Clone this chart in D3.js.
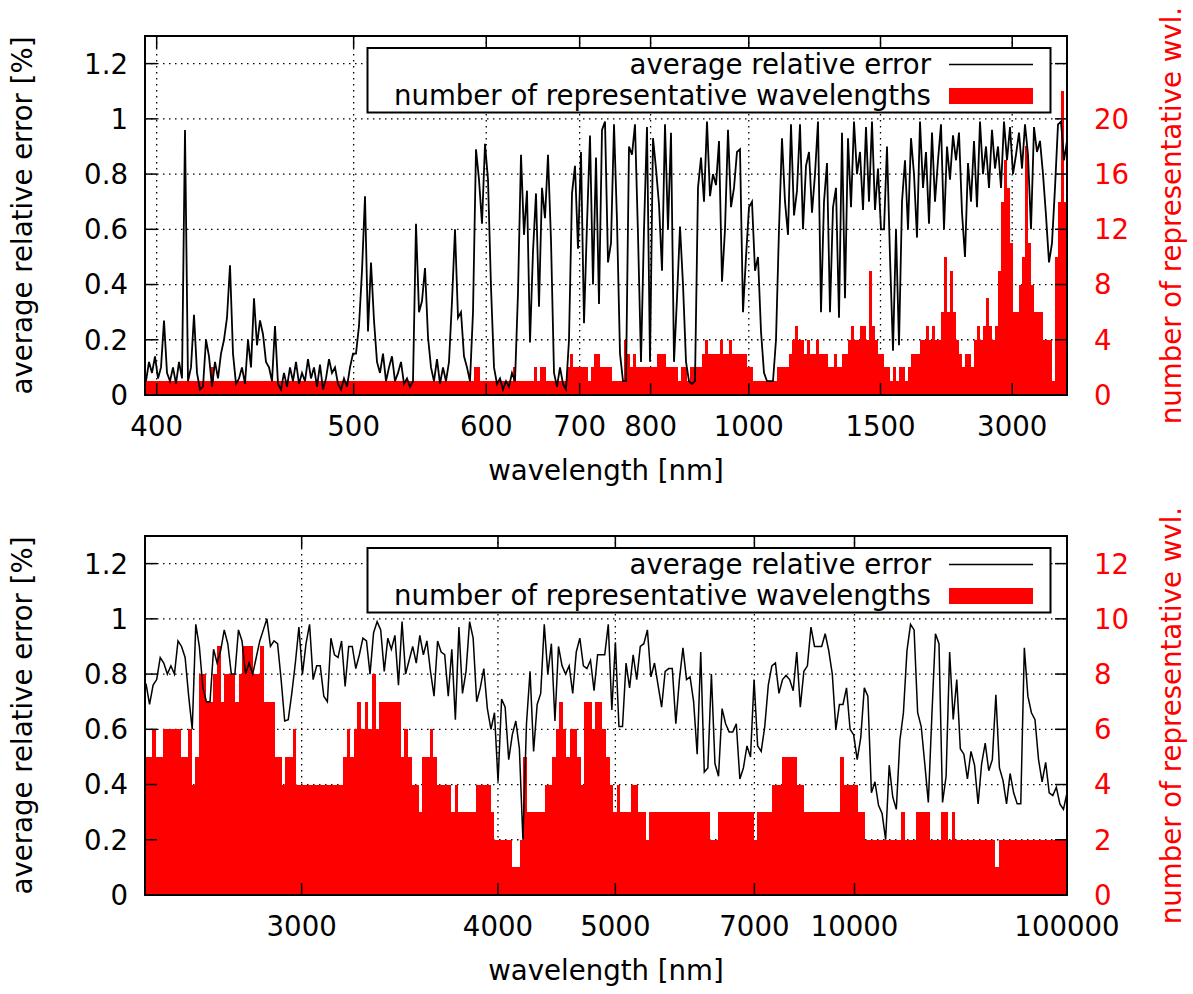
<!DOCTYPE html>
<html>
<head>
<meta charset="utf-8">
<script src="https://d3js.org/d3.v7.min.js"></script>
<style>
  body { margin: 0; background: #fff; }
  text { font-family: "DejaVu Sans", sans-serif; font-size: 27.6px; }
</style>
</head>
<body>
<svg width="1193" height="994"></svg>

<script>
// ---- top panel (400 nm .. 3000+ nm), one value per bin ----
const topErr = [
  0.05,0.12,0.08,0.14,0.06,0.10,0.27,0.08,0.05,0.10,
  0.04,0.12,0.06,0.96,0.05,0.10,0.29,0.08,0.02,0.03,
  0.20,0.14,0.03,0.12,0.06,0.15,0.20,0.28,0.47,0.15,
  0.04,0.06,0.10,0.04,0.20,0.10,0.35,0.18,0.27,0.22,
  0.12,0.10,0.05,0.25,0.04,0.02,0.08,0.03,0.10,0.05,
  0.12,0.04,0.08,0.05,0.13,0.06,0.10,0.03,0.11,0.02,
  0.06,0.13,0.08,0.10,0.04,0.02,0.06,0.03,0.10,0.15,
  0.15,0.25,0.45,0.72,0.23,0.48,0.27,0.12,0.08,0.15,
  0.05,0.10,0.14,0.05,0.08,0.12,0.04,0.06,0.03,0.05,
  0.62,0.30,0.34,0.46,0.21,0.10,0.05,0.13,0.04,0.10,
  0.05,0.12,0.34,0.60,0.28,0.30,0.14,0.10,0.05,0.30,
  0.89,0.78,0.62,0.91,0.78,0.39,0.10,0.04,0.06,0.02,
  0.05,0.03,0.08,0.05,0.37,0.87,0.58,0.74,0.19,0.52,
  0.73,0.32,0.75,0.64,0.87,0.56,0.08,0.03,0.10,0.04,
  0.02,0.20,0.73,0.83,0.53,0.88,0.26,0.62,0.94,0.40,
  0.86,0.33,0.96,0.99,0.48,0.55,0.98,0.63,0.15,0.05,
  0.05,0.90,0.87,0.98,0.58,0.12,0.60,0.97,0.12,0.93,
  0.82,0.69,0.45,0.98,0.60,0.95,0.12,0.35,0.61,0.40,
  0.12,0.05,0.04,0.05,0.75,0.86,0.70,0.99,0.72,0.80,
  0.76,0.92,0.41,0.60,0.96,0.68,0.75,0.88,0.89,0.30,
  0.50,0.68,0.70,0.45,0.50,0.23,0.08,0.05,0.05,0.05,
  0.20,0.60,0.93,0.70,0.58,0.98,0.65,0.74,0.98,0.60,
  0.83,0.88,0.66,0.80,0.99,0.30,0.70,0.84,0.30,0.68,
  0.75,0.28,0.95,0.35,0.93,0.68,0.99,0.80,0.88,0.67,
  0.97,0.70,0.99,0.67,0.82,0.60,0.60,0.90,0.50,0.16,
  0.60,0.18,0.70,0.85,0.60,0.93,0.80,0.57,0.99,0.75,
  0.88,0.62,0.95,0.70,0.85,0.98,0.60,0.90,0.78,0.94,
  0.85,0.95,0.66,0.50,0.84,0.70,0.92,0.68,0.99,0.80,
  0.90,0.75,0.96,0.82,0.90,0.75,0.99,0.85,0.97,0.80,
  0.87,0.95,0.82,0.98,0.87,0.60,0.97,0.88,0.92,0.80,
  0.65,0.48,0.55,0.75,0.98,0.99,0.85,0.92
];
const topCount = [
  1,1,1,1,1,1,1,1,1,1,
  1,1,1,1,1,1,1,1,1,1,
  1,1,2,1,1,1,1,1,1,1,
  1,1,1,1,1,1,1,1,1,1,
  1,1,1,1,1,1,1,1,1,1,
  1,1,1,1,1,1,1,1,1,1,
  1,1,1,1,1,1,1,1,1,1,
  1,1,1,1,1,1,1,1,1,1,
  1,1,1,1,1,1,1,1,1,1,
  1,1,1,1,1,1,1,1,1,1,
  1,1,1,1,1,1,1,1,1,1,
  2,2,1,1,1,1,1,1,1,1,
  1,1,1,2,1,1,1,1,1,1,
  2,1,2,2,1,1,1,1,1,1,
  1,2,3,2,2,2,2,2,1,2,
  3,3,2,2,2,2,1,1,1,1,
  4,3,2,3,2,2,2,2,2,2,
  2,3,3,3,2,2,2,2,1,2,
  2,1,2,2,2,2,3,4,3,3,
  3,3,4,3,3,4,3,3,3,3,
  3,2,2,1,1,1,1,1,1,1,
  1,2,2,2,2,3,4,5,4,4,
  3,4,3,3,4,3,3,3,2,2,
  3,2,2,3,3,4,5,4,4,5,
  5,4,9,5,4,3,3,2,2,1,
  2,1,2,2,1,2,3,3,3,4,
  4,5,4,5,4,4,6,10,6,9,
  6,4,3,2,3,3,2,4,5,4,
  5,7,5,4,5,9,14,17,15,11,
  6,6,8,10,18,11,8,6,6,6,
  4,4,4,1,10,14,22,14
];
const topTickPos = [3.9, 69.7, 114, 145.2, 168.9, 201.7, 245.7, 289.7];
const topTickLabels = ["400", "500", "600", "700", "800", "1000", "1500", "3000"];
const topCountTicks = [0, 4, 8, 12, 16, 20];
const topCountMax = 26;

// ---- bottom panel (2500 nm .. 100000 nm) ----
const botErr = [
  0.765,0.69,0.76,0.78,0.86,0.84,0.80,0.83,0.80,0.92,
  0.90,0.86,0.72,0.60,0.98,0.90,0.75,0.70,0.70,0.89,
  0.84,0.885,0.96,0.91,0.80,0.80,0.96,0.92,0.80,0.84,
  0.80,0.86,0.92,0.96,1.00,0.90,0.92,0.91,0.78,0.63,
  0.635,0.73,0.84,0.97,0.80,0.91,0.98,0.78,0.83,0.83,
  0.72,0.70,0.93,0.87,0.86,0.92,0.755,0.90,0.90,0.82,
  0.87,0.93,0.92,0.80,0.95,0.99,0.96,
  0.81,0.93,0.89,0.94,0.76,0.99,0.80,0.85,0.90,0.84,
  0.94,0.87,0.92,0.81,0.72,0.92,0.88,0.87,0.72,0.89,
  0.635,0.97,0.73,0.81,0.99,0.93,0.70,0.75,0.82,0.675,
  0.60,0.66,0.41,0.71,0.68,0.49,0.58,0.63,0.53,0.20,
  0.62,0.81,0.52,0.69,0.73,0.98,0.80,0.91,0.63,0.90,
  0.83,0.80,0.83,0.73,0.88,0.93,0.83,0.82,0.85,0.74,
  0.87,0.87,0.87,0.98,
  0.67,0.915,0.61,0.61,0.84,0.75,0.87,0.78,0.90,0.91,
  0.96,0.79,0.84,0.76,0.68,0.81,0.82,0.82,0.62,0.78,
  0.895,0.78,0.79,0.70,0.51,0.88,0.445,0.46,0.80,0.476,
  0.43,0.675,0.62,0.59,0.59,0.62,0.42,0.46,0.54,0.50,
  0.78,0.54,0.52,0.61,0.76,0.83,0.84,0.73,0.78,0.795,
  0.78,0.74,0.88,0.68,0.81,0.83,0.97,0.90,0.90,0.90,
  0.946,0.885,0.80,0.60,0.69,
  0.69,0.75,0.60,0.58,0.49,0.57,0.75,0.72,0.37,0.41,
  0.325,0.295,0.20,0.47,0.355,0.31,0.56,0.66,0.885,0.98,
  0.96,0.66,0.61,0.476,0.335,0.65,0.946,0.91,0.335,0.43,
  0.88,0.636,0.78,0.53,0.51,0.42,0.52,0.47,0.33,0.476,
  0.55,0.45,0.49,0.725,0.46,0.415,0.33,0.44,0.37,0.33,
  0.33,0.895,0.72,0.66,0.635,0.49,0.41,0.48,0.37,0.36,
  0.39,0.33,0.31,0.37
];
const botCount = [
  5,5,6,5,5,6,6,6,6,6,
  5,5,6,4,5,8,8,7,7,8,
  9,7,8,8,8,7,8,9,9,9,
  8,8,9,7,7,7,5,5,4,5,
  5,6,4,4,4,4,4,4,4,4,
  4,4,4,4,4,5,6,5,6,7,
  6,7,6,8,6,7,7,7,7,7,
  7,5,6,5,4,4,3,5,5,6,
  5,4,4,4,4,3,4,3,3,3,
  3,3,4,4,4,4,3,2,2,2,
  2,2,1,1,2,5,3,3,3,3,
  3,4,4,5,6,7,6,5,6,6,
  5,4,7,7,6,7,7,6,5,4,
  3,4,3,3,3,4,4,3,3,2,
  3,3,3,3,3,3,3,3,3,3,
  3,3,3,3,3,3,3,2,2,3,
  3,3,3,3,3,3,3,3,3,2,
  3,3,3,3,4,4,4,5,5,5,
  5,4,4,3,3,3,3,3,3,3,
  3,3,3,5,4,4,4,4,3,3,
  2,2,2,2,2,2,2,2,2,2,
  3,2,2,2,3,3,3,3,2,2,
  2,3,3,2,3,2,2,2,2,2,
  2,2,2,2,2,2,1,2,2,2,
  2,2,2,2,2,2,2,2,2,2,
  2,2,2,2,2,2
];
const botTickPos = [43.5, 98, 130.6, 169.2, 197, 256];
const botTickLabels = ["3000", "4000", "5000", "7000", "10000", "100000"];
const botCountTicks = [0, 2, 4, 6, 8, 10, 12];
const botCountMax = 13;

const errTicks = [0, 0.2, 0.4, 0.6, 0.8, 1, 1.2];
const errMax = 1.3;

const svg = d3.select("svg");
const plotL = 145, plotR = 1067, plotT = 36, plotB = 395;
const tickLen = 12;

function drawPanel(p) {
  const g = svg.append("g").attr("transform", "translate(0," + p.offsetY + ")");

  const x = d3.scaleLinear().domain([0, p.count.length]).range([plotL, plotR]);
  const xl = d3.scaleLinear().domain([0, p.err.length - 1]).range([plotL + 1, plotR]);
  const y = d3.scaleLinear().domain([0, errMax]).range([plotB, plotT]);
  const y2 = d3.scaleLinear().domain([0, p.countMax]).range([plotB, plotT]);

  const clipId = "clip" + p.offsetY;
  g.append("clipPath").attr("id", clipId)
    .append("rect").attr("x", plotL).attr("y", plotT)
    .attr("width", plotR - plotL).attr("height", plotB - plotT);

  // grid (behind the data)
  const grid = g.append("g")
    .attr("stroke", "#000").attr("stroke-width", 1.3)
    .attr("stroke-dasharray", "1.5,4.5");
  grid.selectAll("line.gx")
    .data(p.tickPos.filter(t => x(t) < plotR - 2))
    .enter().append("line")
    .attr("x1", d => x(d)).attr("x2", d => x(d))
    .attr("y1", plotT).attr("y2", plotB);
  grid.selectAll("line.gy")
    .data(errTicks.filter(t => t > 0))
    .enter().append("line")
    .attr("x1", plotL).attr("x2", plotR)
    .attr("y1", d => y(d)).attr("y2", d => y(d));

  // histogram of representative wavelengths
  g.append("g").attr("clip-path", "url(#" + clipId + ")")
    .attr("shape-rendering", "crispEdges")
    .selectAll("rect")
    .data(p.count)
    .enter().append("rect")
    .attr("x", (d, i) => Math.round(x(i)))
    .attr("width", (d, i) => Math.round(x(i + 1)) - Math.round(x(i)))
    .attr("y", d => Math.round(y2(d)))
    .attr("height", d => plotB - Math.round(y2(d)))
    .attr("fill", "#ff0000");

  // average relative error line
  const line = d3.line()
    .x((d, i) => xl(i))
    .y(d => y(d));
  g.append("path")
    .attr("clip-path", "url(#" + clipId + ")")
    .datum(p.err)
    .attr("d", line)
    .attr("fill", "none")
    .attr("stroke", "#000")
    .attr("stroke-width", p.lineWidth)
    .attr("stroke-linejoin", "miter");

  // legend
  const lg = g.append("g");
  lg.append("rect")
    .attr("x", 367.5).attr("y", 48).attr("width", 683).attr("height", 64.5)
    .attr("fill", "#fff").attr("stroke", "#000").attr("stroke-width", 2);
  lg.append("text").attr("x", 931).attr("y", 73.5).attr("text-anchor", "end")
    .text("average relative error");
  lg.append("text").attr("x", 931).attr("y", 104.5).attr("text-anchor", "end")
    .text("number of representative wavelengths");
  lg.append("line").attr("x1", 949).attr("x2", 1033).attr("y1", 64.5).attr("y2", 64.5)
    .attr("stroke", "#000").attr("stroke-width", 1.5);
  lg.append("rect").attr("x", 949).attr("y", 88).attr("width", 84).attr("height", 16)
    .attr("fill", "#ff0000");

  // ticks
  const ticks = g.append("g").attr("stroke", "#000").attr("stroke-width", 1.5);
  p.tickPos.forEach(t => {
    ticks.append("line").attr("x1", x(t)).attr("x2", x(t)).attr("y1", plotB).attr("y2", plotB - tickLen);
    ticks.append("line").attr("x1", x(t)).attr("x2", x(t)).attr("y1", plotT).attr("y2", plotT + tickLen);
  });
  errTicks.forEach(t => {
    ticks.append("line").attr("x1", plotL).attr("x2", plotL + tickLen).attr("y1", y(t)).attr("y2", y(t));
  });
  p.countTicks.concat([p.countTicks[p.countTicks.length - 1] + p.countTicks[1]])
    .filter(t => t <= p.countMax)
    .forEach(t => {
      ticks.append("line").attr("x1", plotR).attr("x2", plotR - tickLen).attr("y1", y2(t)).attr("y2", y2(t));
    });

  // border
  g.append("rect").attr("x", plotL).attr("y", plotT)
    .attr("width", plotR - plotL).attr("height", plotB - plotT)
    .attr("fill", "none").attr("stroke", "#000").attr("stroke-width", 2);

  // tick labels
  g.selectAll("text.xt")
    .data(p.tickPos)
    .enter().append("text")
    .attr("x", d => x(d)).attr("y", 436)
    .attr("text-anchor", "middle")
    .text((d, i) => p.tickLabels[i]);
  g.selectAll("text.yt")
    .data(errTicks)
    .enter().append("text")
    .attr("x", 128).attr("y", d => y(d)).attr("dy", "0.36em")
    .attr("text-anchor", "end")
    .text(d => d3.format("~g")(d));
  g.selectAll("text.y2t")
    .data(p.countTicks)
    .enter().append("text")
    .attr("x", 1094).attr("y", d => y2(d)).attr("dy", "0.36em")
    .attr("fill", "#ff0000")
    .text(d => d);

  // axis titles
  g.append("text").attr("x", (plotL + plotR) / 2).attr("y", 480)
    .attr("text-anchor", "middle").text("wavelength [nm]");
  g.append("text")
    .attr("transform", "translate(32," + (plotT + plotB) / 2 + ") rotate(-90)")
    .attr("text-anchor", "middle").text("average relative error [%]");
  g.append("text")
    .attr("transform", "translate(1181," + (plotT + plotB) / 2 + ") rotate(-90)")
    .attr("text-anchor", "middle").attr("fill", "#ff0000")
    .text("number of representative wvl.");
}

drawPanel({
  offsetY: 0, err: topErr, count: topCount, countMax: topCountMax, lineWidth: 1.8,
  countTicks: topCountTicks, tickPos: topTickPos, tickLabels: topTickLabels
});
drawPanel({
  offsetY: 500, err: botErr, count: botCount, countMax: botCountMax, lineWidth: 1.5,
  countTicks: botCountTicks, tickPos: botTickPos, tickLabels: botTickLabels
});
</script>
</body>
</html>
